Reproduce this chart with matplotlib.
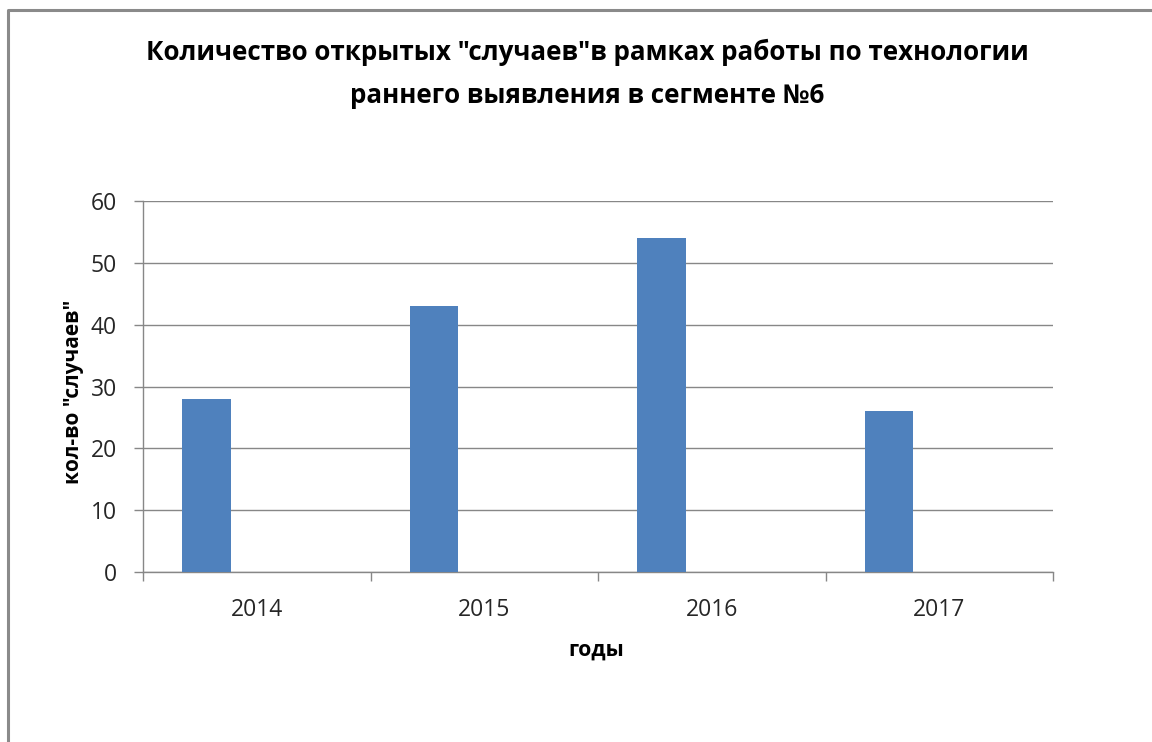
import matplotlib
matplotlib.use("Agg")
import matplotlib.pyplot as plt
from matplotlib.lines import Line2D
import numpy as np

years = ["2014", "2015", "2016", "2017"]
cases = [28, 43, 54, 26]
yticks = [0, 10, 20, 30, 40, 50, 60]

title = 'Количество открытых "случаев"в рамках работы по технологии\nраннего выявления в сегменте №6'
xlabel = "годы"
ylabel = 'кол-во "случаев"'

W, H = 1152, 742
PT = 0.72  # points per pixel at dpi=100
plt.rcParams['font.family'] = ['Open Sans', 'DejaVu Sans']
fig = plt.figure(figsize=(W / 100, H / 100), dpi=100)
fig.patch.set_facecolor("white")

# outer chart frame
fig.add_artist(Line2D([8 / W, 8 / W, 1.0], [0.0, 1 - 10 / H, 1 - 10 / H],
                      transform=fig.transFigure, color="#8a8a8a", lw=2.2))

L, R, T, B = 143, 1053, 201, 572
ax = fig.add_axes([L / W, 1 - B / H, (R - L) / W, (B - T) / H])

grid_c = "#878787"
x = np.arange(len(years))
ax.bar(x - 0.221, cases, width=0.215, color="#4F81BD", zorder=3)

ax.set_xlim(-0.5, len(years) - 0.5)
ax.set_ylim(0, 60)
ax.set_yticks(yticks)
ax.set_yticklabels([str(v) for v in yticks])
ax.yaxis.grid(True, color=grid_c, lw=1)
ax.set_axisbelow(True)

ax.set_xticks(np.arange(-0.5, len(years)))
ax.set_xticklabels([])
ax.set_xticks(x, minor=True)
ax.set_xticklabels(years, minor=True)
ax.tick_params(axis="x", which="major", direction="out", length=9 * PT, color=grid_c, width=1)
ax.tick_params(axis="x", which="minor", length=0, pad=26 * PT, labelsize=16.5, labelcolor="#262626")
ax.tick_params(axis="y", direction="out", length=9 * PT, color=grid_c, width=1, pad=17 * PT,
               labelsize=16.5, labelcolor="#262626")

for s in ["top", "right"]:
    ax.spines[s].set_visible(False)
for s in ["left", "bottom"]:
    ax.spines[s].set_color(grid_c)
    ax.spines[s].set_linewidth(1)

fig.text(587 / W, 1 - 74 / H, title, ha="center", va="center", fontsize=18.7,
         fontweight="bold", linespacing=1.75, color="#000000")
fig.text(596 / W, 1 - 650 / H, xlabel, ha="center", va="center", fontsize=15.4,
         fontweight="bold", color="#000000")
fig.text(73 / W, 1 - 392 / H, ylabel, ha="center", va="center", fontsize=15,
         fontweight="bold", rotation=90, color="#000000")

fig.savefig("out.png", dpi=100, facecolor="white")
